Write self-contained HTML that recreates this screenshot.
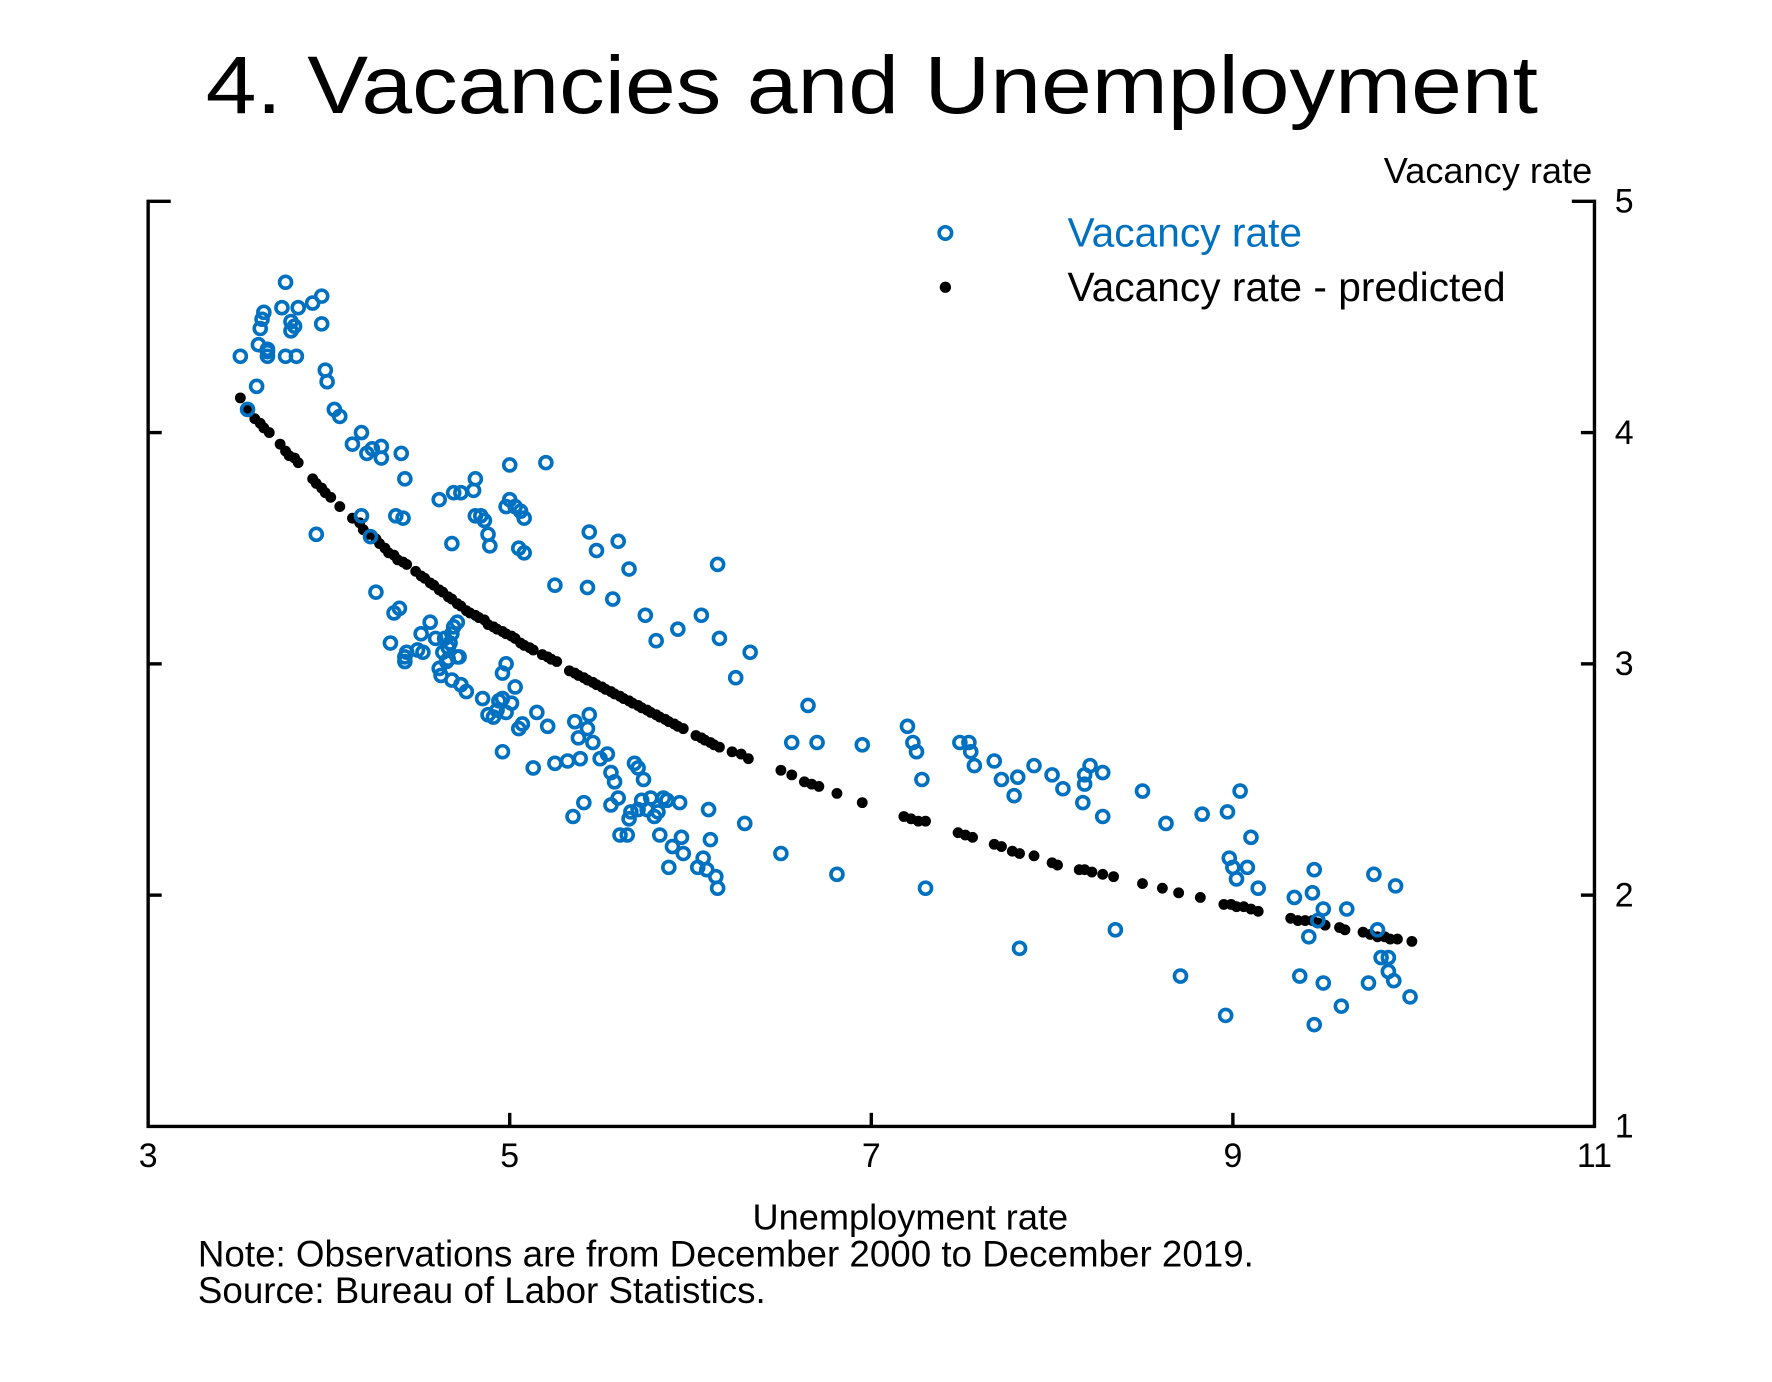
<!DOCTYPE html>
<html><head><meta charset="utf-8"><style>html,body{margin:0;padding:0;background:#fff}svg{display:block}</style></head>
<body>
<svg id="chart" width="1772" height="1382" viewBox="0 0 1567 1222" preserveAspectRatio="none" xmlns="http://www.w3.org/2000/svg" font-family="'Liberation Sans', Arial, sans-serif">
<text x="771" y="100" font-size="72" text-anchor="middle" textLength="1178" lengthAdjust="spacingAndGlyphs" fill="#000">4.  Vacancies and Unemployment</text>
<text x="1408" y="162" font-size="32" text-anchor="end">Vacancy rate</text>
<g id="axes" stroke="#000" stroke-width="3" fill="none"></g>
<g id="ticklabels" font-size="30" fill="#000"></g>
<g id="predicted"></g>
<g id="observed"></g>
<g>
<circle cx="836" cy="206" r="5.5" fill="none" stroke="#0070C0" stroke-width="3.2"/>
<text x="944" y="218" font-size="36" fill="#0070C0">Vacancy rate</text>
<circle cx="836" cy="254" r="5" fill="#000"/>
<text x="944" y="266" font-size="36" fill="#000">Vacancy rate - predicted</text>
</g>
<text x="805" y="1087" font-size="32" text-anchor="middle">Unemployment rate</text>
<text x="175" y="1120" font-size="32.5">Note: Observations are from December 2000 to December 2019.</text>
<text x="175" y="1152" font-size="32.5">Source: Bureau of Labor Statistics.</text>
</svg>
<script>
const xTicks = [3, 5, 7, 9, 11];
const yTicks = [1, 2, 3, 4, 5];
const predU = [3.51,3.55,3.59,3.62,3.64,3.67,3.73,3.76,3.78,3.81,3.83,3.91,3.93,3.96,3.98,4.01,4.06,4.13,4.17,4.19,4.22,4.26,4.28,4.31,4.33,4.36,4.38,4.41,4.43,4.48,4.51,4.53,4.56,4.58,4.61,4.63,4.66,4.68,4.71,4.73,4.76,4.78,4.81,4.83,4.86,4.88,4.91,4.93,4.96,4.98,5.01,5.03,5.06,5.08,5.11,5.13,5.18,5.21,5.23,5.26,5.33,5.36,5.38,5.41,5.43,5.46,5.48,5.51,5.53,5.56,5.58,5.61,5.63,5.66,5.68,5.71,5.73,5.76,5.78,5.81,5.83,5.86,5.88,5.91,5.93,5.96,6.03,6.06,6.08,6.11,6.13,6.16,6.23,6.28,6.32,6.50,6.56,6.63,6.67,6.71,6.81,6.95,7.18,7.22,7.26,7.30,7.48,7.52,7.56,7.68,7.72,7.78,7.82,7.90,8.00,8.03,8.15,8.18,8.22,8.28,8.34,8.50,8.61,8.70,8.82,8.95,8.99,9.02,9.06,9.10,9.14,9.32,9.36,9.40,9.44,9.47,9.51,9.59,9.62,9.72,9.76,9.80,9.84,9.87,9.91,9.99];
const predV = [4.15,4.10,4.06,4.04,4.02,4.00,3.95,3.92,3.90,3.89,3.87,3.80,3.78,3.76,3.74,3.72,3.68,3.63,3.61,3.58,3.56,3.54,3.52,3.50,3.48,3.47,3.45,3.44,3.43,3.40,3.38,3.37,3.35,3.34,3.32,3.31,3.29,3.28,3.26,3.25,3.23,3.22,3.21,3.20,3.19,3.17,3.16,3.15,3.14,3.13,3.12,3.11,3.09,3.08,3.07,3.06,3.04,3.03,3.02,3.01,2.97,2.96,2.95,2.94,2.93,2.92,2.91,2.90,2.89,2.88,2.87,2.86,2.85,2.84,2.83,2.82,2.81,2.80,2.79,2.78,2.77,2.76,2.75,2.74,2.73,2.72,2.69,2.68,2.67,2.66,2.65,2.64,2.62,2.61,2.59,2.54,2.52,2.49,2.48,2.47,2.44,2.40,2.34,2.33,2.32,2.32,2.27,2.26,2.25,2.22,2.21,2.19,2.18,2.17,2.14,2.13,2.11,2.11,2.10,2.09,2.08,2.05,2.03,2.01,1.99,1.96,1.96,1.95,1.95,1.94,1.93,1.90,1.89,1.89,1.89,1.88,1.87,1.86,1.85,1.84,1.83,1.82,1.82,1.81,1.81,1.80];
const obsU = [3.51,3.55,3.60,3.61,3.62,3.63,3.64,3.66,3.66,3.66,3.74,3.76,3.76,3.79,3.79,3.81,3.82,3.83,3.91,3.96,3.96,3.98,3.99,4.03,4.06,4.13,4.18,4.21,4.24,4.29,4.29,4.40,4.42,4.41,4.37,4.18,4.23,3.93,4.26,4.36,4.39,4.34,4.42,4.43,4.42,4.49,4.51,4.52,4.56,4.59,4.61,4.62,4.63,4.64,4.66,4.67,4.68,4.69,4.71,4.65,4.66,4.71,4.68,4.72,4.73,4.76,4.61,4.68,4.69,4.73,4.80,4.81,4.81,4.84,4.86,4.88,4.89,4.98,5.00,5.00,5.03,5.06,5.08,5.08,5.05,5.20,5.25,5.43,5.44,5.48,5.60,5.66,5.57,5.75,5.81,5.93,6.06,6.15,6.16,6.25,6.33,4.85,4.88,4.91,4.93,4.96,4.96,4.98,4.98,4.94,5.01,5.03,5.05,5.07,5.15,5.21,4.96,5.13,5.25,5.32,5.36,5.38,5.39,5.43,5.44,5.46,5.50,5.54,5.56,5.58,5.60,5.56,5.41,5.35,5.61,5.65,5.66,5.67,5.69,5.71,5.74,5.71,5.73,5.76,5.78,5.80,5.82,5.85,5.87,5.83,5.88,5.90,5.94,5.96,5.95,6.04,6.07,6.09,6.10,6.11,6.14,6.15,6.30,6.50,6.56,6.65,6.70,6.81,6.95,7.20,7.23,7.25,7.28,7.30,7.49,7.54,7.55,7.57,7.68,7.72,7.79,7.81,7.82,7.90,8.00,8.06,8.17,8.18,8.18,8.21,8.28,8.28,8.35,8.50,8.63,8.71,8.83,8.96,8.97,8.98,9.00,9.02,9.04,9.08,9.10,9.14,9.34,9.37,9.42,9.44,9.45,9.45,9.47,9.50,9.50,9.60,9.63,9.75,9.78,9.80,9.82,9.86,9.86,9.89,9.90,9.98];
const obsV = [4.33,4.10,4.20,4.38,4.45,4.49,4.52,4.35,4.36,4.33,4.54,4.65,4.33,4.48,4.44,4.46,4.33,4.54,4.56,4.59,4.47,4.27,4.22,4.10,4.07,3.95,4.00,3.91,3.93,3.94,3.89,3.91,3.80,3.63,3.64,3.64,3.55,3.56,3.31,3.22,3.24,3.09,3.03,3.05,3.01,3.06,3.13,3.05,3.18,3.11,2.98,2.95,3.05,3.11,3.07,3.09,3.13,3.16,3.18,3.01,3.02,3.03,2.93,3.03,2.91,2.88,3.71,3.52,3.74,3.74,3.75,3.80,3.64,3.64,3.62,3.56,3.51,3.68,3.86,3.71,3.68,3.66,3.63,3.48,3.50,3.87,3.34,3.33,3.57,3.49,3.53,3.41,3.28,3.21,3.10,3.15,3.21,3.43,3.11,2.94,3.05,2.85,2.78,2.77,2.80,2.85,2.96,3.00,2.79,2.84,2.83,2.90,2.72,2.74,2.79,2.73,2.62,2.55,2.57,2.58,2.75,2.68,2.59,2.72,2.78,2.66,2.59,2.61,2.53,2.49,2.42,2.39,2.40,2.34,2.26,2.26,2.33,2.36,2.57,2.55,2.50,2.37,2.41,2.37,2.42,2.34,2.36,2.42,2.41,2.26,2.12,2.21,2.40,2.18,2.25,2.12,2.16,2.11,2.37,2.24,2.08,2.03,2.31,2.18,2.66,2.82,2.66,2.09,2.65,2.73,2.66,2.62,2.50,2.03,2.66,2.66,2.62,2.56,2.58,2.50,2.43,2.51,1.77,2.56,2.52,2.46,2.40,2.48,2.52,2.56,2.53,2.34,1.85,2.45,2.31,1.65,2.35,1.48,2.36,2.16,2.12,2.07,2.45,2.12,2.25,2.03,1.99,1.65,1.82,2.01,2.11,1.44,1.89,1.94,1.62,1.52,1.94,1.62,2.09,1.85,1.73,1.67,1.73,1.63,2.04,1.56];

const L=131,R=1410,T=178,B=996;
const xMin=3,xMax=11,yMin=1,yMax=5;
function xs(u){return L+(u-xMin)/(xMax-xMin)*(R-L);}
function ys(v){return B-(v-yMin)/(yMax-yMin)*(B-T);}
const NS="http://www.w3.org/2000/svg";
function mk(tag,attrs,parent){const e=document.createElementNS(NS,tag);for(const k in attrs)e.setAttribute(k,attrs[k]);parent.appendChild(e);return e;}

const axes=document.getElementById('axes');
const frame=mk('path',{d:`M${L+20},${T} H${L} V${B} H${R} V${T} H${R-20}`},axes);


const tl=document.getElementById('ticklabels');
xTicks.forEach(t=>{
  const x=xs(t);
  if(t>xMin&&t<xMax){const tk=mk('line',{x1:x,x2:x,y1:B,y2:B-12},axes);
    
    }
  const lb=mk('text',{x:x,y:B+36,'text-anchor':'middle'},tl);lb.textContent=t;
  
  
});
yTicks.forEach(t=>{
  const y=ys(t);
  if(t>yMin&&t<yMax){
    const a=mk('line',{x1:L,x2:L+12,y1:y,y2:y},axes);
    
    
    const b=mk('line',{x1:R,x2:R-12,y1:y,y2:y},axes);
    
    
  }
  const lb=mk('text',{x:R+18,y:y+10},tl);lb.textContent=t;
  
  
});
const pg=document.getElementById('predicted');
predU.forEach((u,i)=>{
  const c=mk('circle',{cx:xs(u),cy:ys(predV[i]),r:4.8,fill:'#000'},pg);
  
  
});
const og=document.getElementById('observed');
obsU.forEach((u,i)=>{
  const c=mk('circle',{cx:xs(u),cy:ys(obsV[i]),r:5.3,fill:'none',stroke:'#0070C0','stroke-width':3.2},og);
  
  
});
</script>
</body></html>
